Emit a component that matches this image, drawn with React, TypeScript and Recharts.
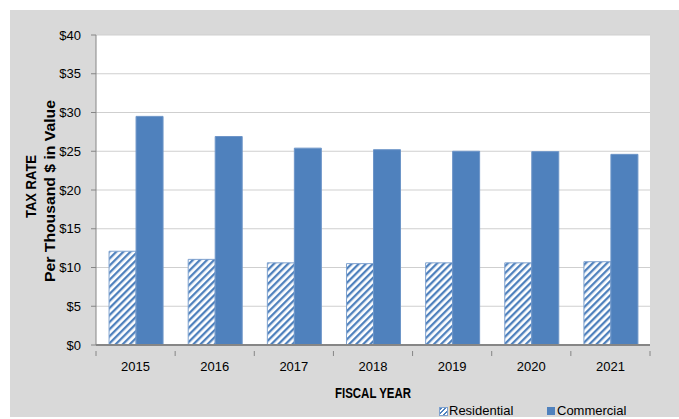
import { BarChart, Bar, XAxis, YAxis, CartesianGrid, Label } from "recharts";

const years = ["2015", "2016", "2017", "2018", "2019", "2020", "2021"];
const residential = [12.1, 11.05, 10.6, 10.5, 10.6, 10.6, 10.75];
const commercial = [29.5, 26.9, 25.4, 25.2, 25.0, 24.95, 24.6];
const yTicks = [0, 5, 10, 15, 20, 25, 30, 35, 40];

const data = years.map((year, i) => ({
  year,
  residential: residential[i],
  commercial: commercial[i],
}));

const FONT = "'Liberation Sans', Arial, sans-serif";
const BLUE = "#4f81bd";
const AXIS = "#868686";
const PLOT_W = 554;

const XTick = (props: any) => {
  const { x, y, payload, index } = props;
  const band = PLOT_W / years.length;
  return (
    <g>
      <line x1={x - band / 2} x2={x - band / 2} y1={y - 8} y2={y - 3} stroke={AXIS} />
      {index === years.length - 1 && (
        <line x1={x + band / 2} x2={x + band / 2} y1={y - 8} y2={y - 3} stroke={AXIS} />
      )}
      <text x={x} y={y + 12} textAnchor="middle" fontSize={13} fill="#000" fontFamily={FONT}>
        {payload.value}
      </text>
    </g>
  );
};

const YTitle = () => (
  <g fontFamily={FONT} fontWeight="bold" fontSize={15} fill="#000">
    <text
      transform="translate(20.5,176.5) rotate(-90)"
      textAnchor="middle"
      dominantBaseline="central"
      textLength={63}
      lengthAdjust="spacingAndGlyphs"
    >
      TAX RATE
    </text>
    <text
      transform="translate(39,181) rotate(-90)"
      textAnchor="middle"
      dominantBaseline="central"
      textLength={182}
      lengthAdjust="spacingAndGlyphs"
    >
      Per Thousand $ in Value
    </text>
  </g>
);

const XTitle = () => (
  <text
    x={363}
    y={383}
    textAnchor="middle"
    dominantBaseline="central"
    fontFamily={FONT}
    fontWeight="bold"
    fontSize={14.5}
    fill="#000"
    textLength={76}
    lengthAdjust="spacingAndGlyphs"
  >
    FISCAL YEAR
  </text>
);

export default function App() {
  return (
    <div style={{ position: "absolute", left: 0, top: 0, width: 679, height: 419, background: "#fff" }}>
      <div
        style={{
          position: "absolute",
          left: 10,
          top: 10,
          width: 669,
          height: 407,
          background: "#d9d9d9",
        }}
      >
        <BarChart
          width={669}
          height={407}
          data={data}
          margin={{ top: 25, right: 29, left: 0, bottom: 42 }}
          barCategoryGap="16.5%"
          barGap={0}
        >
          <defs>
            <pattern
              id="hatch"
              patternUnits="userSpaceOnUse"
              width={5}
              height={5}
              patternTransform="rotate(45)"
            >
              <rect width={5} height={5} fill="#fff" />
              <rect width={2.3} height={5} fill={BLUE} />
            </pattern>
          </defs>
          <CartesianGrid vertical={false} stroke="#cfcfcf" fill="#fff" />
          <XAxis
            dataKey="year"
            axisLine={{ stroke: AXIS, strokeWidth: 2 }}
            tickLine={false}
            tick={<XTick />}
            interval={0}
            height={30}
            tickMargin={8}
          >
            <Label content={<XTitle />} />
          </XAxis>
          <YAxis
            domain={[0, 40]}
            ticks={yTicks}
            interval={0}
            width={86}
            axisLine={{ stroke: AXIS }}
            tickLine={{ stroke: AXIS }}
            tickSize={5}
            tickMargin={10}
            tickFormatter={(v: number) => `$${v}`}
            tick={{ fontSize: 13, fill: "#000", fontFamily: FONT }}
          >
            <Label content={<YTitle />} />
          </YAxis>
          <Bar
            dataKey="residential"
            fill="url(#hatch)"
            stroke="#7fa2cf"
            strokeWidth={1}
            isAnimationActive={false}
          />
          <Bar
            dataKey="commercial"
            fill={BLUE}
            stroke="#6d95c8"
            strokeWidth={1}
            isAnimationActive={false}
          />
        </BarChart>
        <div
          style={{
            position: "absolute",
            left: 0,
            top: 394,
            width: 669,
            height: 16,
            fontFamily: FONT,
            fontSize: 13,
            color: "#000",
          }}
        >
          <div style={{ position: "absolute", left: 429, top: 3, width: 7, height: 7, border: "0.5px solid #7fa2cf", background: `repeating-linear-gradient(-45deg, #fff 0 1.6px, ${BLUE} 1.6px 3.4px)` }} />
          <div style={{ position: "absolute", left: 439, top: -1, lineHeight: "16px", whiteSpace: "nowrap" }}>Residential</div>
          <div style={{ position: "absolute", left: 537, top: 3, width: 8, height: 8, background: BLUE }} />
          <div style={{ position: "absolute", left: 547, top: -1, lineHeight: "16px", whiteSpace: "nowrap" }}>Commercial</div>
        </div>
      </div>
    </div>
  );
}
